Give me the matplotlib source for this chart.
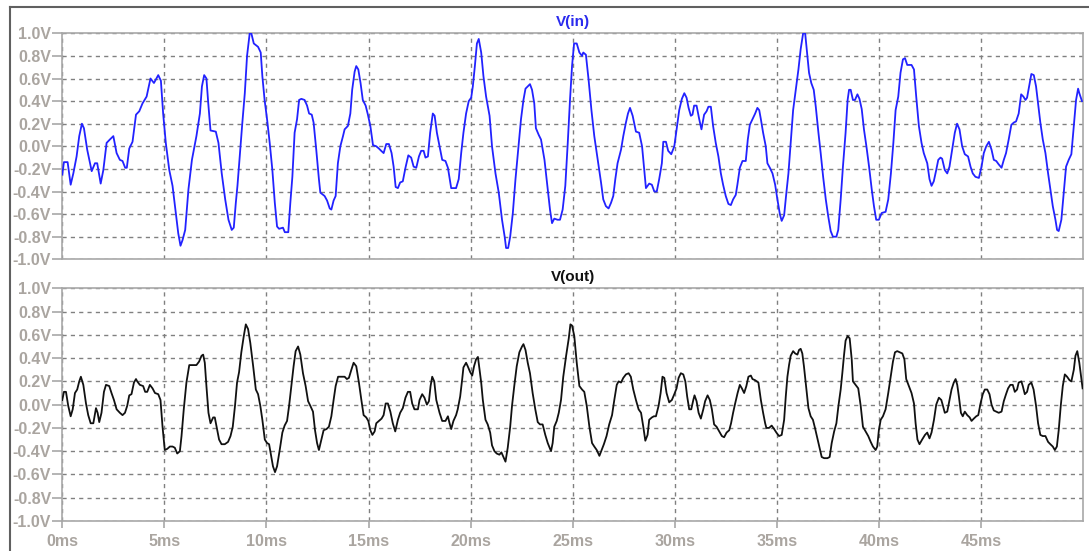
import matplotlib
matplotlib.use("Agg")
import matplotlib.pyplot as plt
from matplotlib.lines import Line2D
from matplotlib.ticker import FuncFormatter

# V(in) trace, time in ms
t_in = [0.00, 0.08, 0.26, 0.41, 0.54, 0.70, 0.83, 0.96, 1.06, 1.22, 1.44, 1.60, 1.71, 1.88, 2.01, 2.17,
        2.33, 2.50, 2.66, 2.82, 2.95, 3.08, 3.16, 3.28, 3.44, 3.61, 3.77, 3.93, 4.13, 4.32, 4.49, 4.70,
        4.83, 4.94, 5.07, 5.24, 5.40, 5.56, 5.68, 5.79, 5.89, 6.02, 6.18, 6.35, 6.57, 6.74, 6.84, 6.95,
        7.06, 7.15, 7.26, 7.52, 7.65, 7.81, 7.98, 8.14, 8.30, 8.40, 8.50, 8.58, 8.69, 8.82, 8.94, 9.05,
        9.18, 9.26, 9.38, 9.59, 9.72, 9.80, 9.91, 10.03, 10.16, 10.29, 10.41, 10.52, 10.62, 10.81, 10.90, 11.07,
        11.17, 11.27, 11.38, 11.50, 11.60, 11.71, 11.87, 11.99, 12.09, 12.22, 12.31, 12.44, 12.57, 12.64, 12.85, 12.97,
        13.10, 13.18, 13.29, 13.39, 13.50, 13.62, 13.75, 13.83, 13.99, 14.11, 14.20, 14.32, 14.40, 14.50, 14.61, 14.72,
        14.86, 14.97, 15.09, 15.22, 15.38, 15.51, 15.62, 15.74, 15.87, 16.00, 16.13, 16.23, 16.33, 16.44, 16.55, 16.68,
        16.81, 16.95, 17.09, 17.21, 17.34, 17.47, 17.58, 17.70, 17.79, 17.91, 18.02, 18.15, 18.24, 18.35, 18.48, 18.61,
        18.77, 18.89, 19.05, 19.29, 19.42, 19.54, 19.65, 19.78, 19.91, 20.03, 20.11, 20.21, 20.31, 20.40, 20.52, 20.63,
        20.76, 20.93, 21.05, 21.22, 21.38, 21.54, 21.67, 21.74, 21.84, 21.94, 22.07, 22.20, 22.36, 22.47, 22.59, 22.69,
        22.80, 22.91, 23.01, 23.12, 23.20, 23.34, 23.45, 23.62, 23.78, 23.89, 23.99, 24.10, 24.26, 24.38, 24.51, 24.64,
        24.76, 24.87, 24.97, 25.07, 25.20, 25.33, 25.46, 25.52, 25.65, 25.78, 25.92, 26.06, 26.23, 26.39, 26.50, 26.63,
        26.76, 26.88, 26.99, 27.09, 27.20, 27.37, 27.48, 27.61, 27.71, 27.81, 27.94, 28.10, 28.26, 28.40, 28.51, 28.59,
        28.75, 28.88, 29.00, 29.12, 29.24, 29.37, 29.44, 29.57, 29.68, 29.83, 29.98, 30.09, 30.22, 30.35, 30.47, 30.58,
        30.68, 30.79, 30.87, 30.95, 31.07, 31.20, 31.31, 31.44, 31.56, 31.65, 31.77, 31.88, 32.01, 32.14, 32.26, 32.37,
        32.50, 32.63, 32.75, 32.86, 32.99, 33.07, 33.19, 33.32, 33.48, 33.58, 33.68, 33.81, 33.94, 34.05, 34.14, 34.22,
        34.33, 34.46, 34.54, 34.66, 34.79, 34.92, 35.03, 35.15, 35.24, 35.36, 35.47, 35.57, 35.68, 35.80, 35.93, 36.06,
        36.17, 36.29, 36.39, 36.48, 36.58, 36.69, 36.81, 36.91, 37.04, 37.15, 37.27, 37.40, 37.52, 37.64, 37.75, 37.92,
        38.01, 38.13, 38.24, 38.37, 38.47, 38.54, 38.62, 38.73, 38.83, 38.95, 39.05, 39.16, 39.27, 39.39, 39.52, 39.65,
        39.76, 39.87, 40.00, 40.14, 40.33, 40.46, 40.59, 40.71, 40.82, 40.95, 41.06, 41.18, 41.28, 41.39, 41.60, 41.72,
        41.83, 41.96, 42.09, 42.20, 42.37, 42.48, 42.58, 42.69, 42.81, 42.91, 43.02, 43.10, 43.23, 43.35, 43.46, 43.59,
        43.72, 43.83, 43.95, 44.08, 44.21, 44.37, 44.49, 44.60, 44.73, 44.90, 45.03, 45.14, 45.26, 45.39, 45.52, 45.63,
        45.75, 45.87, 46.01, 46.12, 46.23, 46.36, 46.49, 46.61, 46.72, 46.85, 46.97, 47.08, 47.18, 47.26, 47.38, 47.47,
        47.59, 47.70, 47.80, 47.91, 48.03, 48.16, 48.29, 48.40, 48.52, 48.65, 48.73, 48.81, 48.94, 49.06, 49.17, 49.30,
        49.43, 49.55, 49.66, 49.76, 49.82, 49.95]
v_in = [-0.25, -0.14, -0.14, -0.34, -0.24, -0.09, 0.09, 0.20, 0.16, -0.03, -0.22, -0.15, -0.15, -0.33, -0.21, 0.03,
        0.06, 0.09, -0.06, -0.12, -0.13, -0.19, -0.19, -0.02, 0.04, 0.28, 0.31, 0.38, 0.44, 0.60, 0.56, 0.63,
        0.58, 0.29, 0.03, -0.21, -0.35, -0.59, -0.77, -0.88, -0.83, -0.74, -0.38, -0.12, 0.09, 0.29, 0.53, 0.63,
        0.60, 0.38, 0.14, 0.13, 0.03, -0.24, -0.47, -0.65, -0.74, -0.72, -0.50, -0.35, -0.09, 0.21, 0.47, 0.80,
        1.00, 1.00, 0.91, 0.88, 0.83, 0.62, 0.41, 0.24, 0.03, -0.21, -0.50, -0.71, -0.73, -0.72, -0.76, -0.76,
        -0.50, -0.27, 0.12, 0.24, 0.41, 0.42, 0.41, 0.36, 0.29, 0.28, 0.21, -0.03, -0.29, -0.41, -0.44, -0.48,
        -0.55, -0.56, -0.48, -0.44, -0.15, 0.00, 0.09, 0.15, 0.18, 0.29, 0.50, 0.66, 0.71, 0.68, 0.56, 0.41,
        0.36, 0.28, 0.18, 0.01, 0.00, -0.02, -0.04, -0.06, 0.02, 0.02, -0.06, -0.18, -0.36, -0.37, -0.32, -0.31,
        -0.19, -0.08, -0.10, -0.18, -0.19, -0.09, -0.04, -0.04, -0.10, -0.09, 0.12, 0.29, 0.27, 0.12, 0.00, -0.12,
        -0.13, -0.19, -0.37, -0.37, -0.29, -0.06, 0.12, 0.29, 0.40, 0.43, 0.53, 0.71, 0.91, 0.95, 0.83, 0.62,
        0.44, 0.27, 0.00, -0.24, -0.41, -0.65, -0.80, -0.90, -0.90, -0.80, -0.59, -0.29, 0.03, 0.24, 0.41, 0.51,
        0.53, 0.55, 0.50, 0.38, 0.16, 0.10, 0.06, -0.12, -0.38, -0.56, -0.68, -0.64, -0.65, -0.65, -0.56, -0.35,
        0.03, 0.41, 0.71, 0.91, 0.91, 0.83, 0.80, 0.83, 0.81, 0.59, 0.32, 0.09, -0.12, -0.32, -0.47, -0.53,
        -0.55, -0.50, -0.44, -0.29, -0.15, -0.03, 0.09, 0.21, 0.29, 0.34, 0.27, 0.13, 0.12, 0.00, -0.21, -0.37,
        -0.33, -0.34, -0.40, -0.40, -0.29, -0.15, 0.04, 0.04, -0.04, -0.07, 0.00, 0.15, 0.32, 0.42, 0.47, 0.43,
        0.34, 0.27, 0.28, 0.36, 0.36, 0.24, 0.15, 0.28, 0.31, 0.35, 0.35, 0.18, 0.03, -0.09, -0.24, -0.34,
        -0.44, -0.51, -0.52, -0.47, -0.43, -0.34, -0.19, -0.13, -0.13, 0.06, 0.19, 0.24, 0.29, 0.34, 0.32, 0.24,
        0.12, 0.00, -0.15, -0.19, -0.24, -0.34, -0.47, -0.60, -0.66, -0.61, -0.41, -0.24, 0.03, 0.32, 0.50, 0.68,
        0.86, 1.00, 1.00, 0.83, 0.65, 0.56, 0.50, 0.35, 0.12, -0.06, -0.27, -0.47, -0.62, -0.75, -0.80, -0.80,
        -0.74, -0.47, -0.18, 0.12, 0.41, 0.50, 0.50, 0.41, 0.41, 0.46, 0.42, 0.33, 0.15, 0.00, -0.18, -0.38,
        -0.53, -0.65, -0.65, -0.59, -0.58, -0.47, -0.24, 0.03, 0.32, 0.44, 0.65, 0.77, 0.78, 0.72, 0.72, 0.68,
        0.44, 0.18, 0.03, -0.06, -0.15, -0.29, -0.35, -0.31, -0.21, -0.12, -0.10, -0.11, -0.21, -0.24, -0.18, -0.03,
        0.12, 0.20, 0.15, 0.00, -0.07, -0.09, -0.18, -0.24, -0.27, -0.28, -0.18, -0.06, 0.00, 0.04, -0.03, -0.12,
        -0.13, -0.16, -0.19, -0.12, -0.06, 0.06, 0.19, 0.21, 0.22, 0.29, 0.46, 0.44, 0.41, 0.43, 0.55, 0.64,
        0.63, 0.53, 0.38, 0.21, 0.06, -0.06, -0.24, -0.38, -0.53, -0.65, -0.74, -0.75, -0.65, -0.41, -0.18, -0.12,
        -0.07, 0.18, 0.41, 0.51, 0.47, 0.40]

# V(out) trace, time in ms
t_out = [0.00, 0.08, 0.18, 0.29, 0.41, 0.51, 0.62, 0.73, 0.83, 0.91, 1.03, 1.16, 1.27, 1.39, 1.52, 1.65,
         1.73, 1.81, 1.92, 2.04, 2.14, 2.30, 2.41, 2.53, 2.66, 2.82, 2.95, 3.07, 3.18, 3.28, 3.39, 3.51,
         3.61, 3.67, 3.80, 3.96, 4.06, 4.16, 4.29, 4.42, 4.54, 4.70, 4.81, 4.91, 5.02, 5.14, 5.27, 5.40,
         5.51, 5.63, 5.76, 5.84, 5.95, 6.08, 6.22, 6.38, 6.57, 6.70, 6.82, 6.90, 6.98, 7.06, 7.16, 7.26,
         7.39, 7.47, 7.59, 7.68, 7.80, 7.96, 8.12, 8.24, 8.35, 8.46, 8.56, 8.66, 8.77, 8.89, 8.99, 9.10,
         9.21, 9.35, 9.48, 9.59, 9.70, 9.80, 9.92, 10.03, 10.13, 10.24, 10.32, 10.42, 10.52, 10.65, 10.78, 10.89,
         11.01, 11.11, 11.22, 11.33, 11.43, 11.55, 11.66, 11.79, 11.92, 12.04, 12.15, 12.28, 12.38, 12.48, 12.57, 12.69,
         12.80, 12.94, 13.06, 13.18, 13.29, 13.39, 13.51, 13.67, 13.83, 13.94, 14.04, 14.16, 14.27, 14.40, 14.53, 14.65,
         14.76, 14.89, 14.99, 15.09, 15.19, 15.30, 15.38, 15.51, 15.64, 15.74, 15.84, 15.95, 16.07, 16.19, 16.31, 16.44,
         16.55, 16.68, 16.81, 16.93, 17.04, 17.14, 17.25, 17.42, 17.50, 17.63, 17.74, 17.86, 17.96, 18.04, 18.12, 18.22,
         18.32, 18.48, 18.61, 18.77, 18.89, 18.97, 19.05, 19.16, 19.29, 19.37, 19.49, 19.59, 19.65, 19.78, 19.86, 19.98,
         20.08, 20.17, 20.27, 20.36, 20.44, 20.52, 20.60, 20.73, 20.84, 20.96, 21.05, 21.17, 21.28, 21.41, 21.51, 21.61,
         21.71, 21.82, 21.94, 22.03, 22.14, 22.26, 22.39, 22.52, 22.59, 22.69, 22.80, 22.91, 23.04, 23.17, 23.29, 23.40,
         23.53, 23.66, 23.78, 23.94, 24.02, 24.10, 24.22, 24.32, 24.43, 24.54, 24.68, 24.81, 24.89, 24.97, 25.08, 25.20,
         25.33, 25.46, 25.57, 25.69, 25.82, 25.95, 26.06, 26.18, 26.31, 26.40, 26.53, 26.66, 26.79, 26.93, 27.04, 27.16,
         27.25, 27.37, 27.48, 27.61, 27.74, 27.85, 27.97, 28.10, 28.23, 28.35, 28.46, 28.56, 28.67, 28.75, 28.88, 28.98,
         29.08, 29.21, 29.31, 29.40, 29.49, 29.60, 29.73, 29.86, 29.98, 30.09, 30.19, 30.30, 30.42, 30.52, 30.61, 30.71,
         30.81, 30.91, 30.97, 31.07, 31.17, 31.28, 31.40, 31.49, 31.61, 31.72, 31.82, 31.93, 32.05, 32.18, 32.31, 32.42,
         32.54, 32.67, 32.76, 32.86, 32.96, 33.08, 33.19, 33.29, 33.40, 33.51, 33.61, 33.73, 33.81, 33.94, 34.10, 34.22,
         34.33, 34.43, 34.49, 34.62, 34.75, 34.87, 34.98, 35.11, 35.24, 35.36, 35.44, 35.52, 35.60, 35.68, 35.80, 35.90,
         36.01, 36.09, 36.17, 36.25, 36.33, 36.45, 36.55, 36.66, 36.77, 36.87, 36.99, 37.10, 37.20, 37.32, 37.48, 37.59,
         37.69, 37.81, 37.92, 38.02, 38.13, 38.21, 38.29, 38.37, 38.47, 38.57, 38.67, 38.73, 38.86, 38.99, 39.11, 39.22,
         39.35, 39.48, 39.60, 39.71, 39.84, 39.92, 40.00, 40.09, 40.20, 40.33, 40.46, 40.58, 40.69, 40.79, 40.90, 41.02,
         41.15, 41.25, 41.34, 41.47, 41.60, 41.72, 41.80, 41.89, 41.99, 42.12, 42.26, 42.37, 42.48, 42.58, 42.70, 42.81,
         42.94, 43.06, 43.14, 43.23, 43.35, 43.46, 43.56, 43.67, 43.76, 43.84, 43.92, 44.02, 44.11, 44.21, 44.33, 44.45,
         44.54, 44.65, 44.77, 44.87, 44.98, 45.09, 45.19, 45.31, 45.42, 45.52, 45.63, 45.75, 45.87, 46.01, 46.12, 46.23,
         46.33, 46.44, 46.56, 46.66, 46.77, 46.85, 46.98, 47.05, 47.15, 47.26, 47.34, 47.47, 47.58, 47.70, 47.80, 47.91,
         48.03, 48.16, 48.29, 48.40, 48.52, 48.62, 48.72, 48.81, 48.91, 49.01, 49.11, 49.22, 49.34, 49.43, 49.55, 49.63,
         49.72, 49.82, 49.92, 49.98]
v_out = [0.04, 0.11, 0.11, -0.01, -0.10, -0.04, 0.10, 0.13, 0.20, 0.24, 0.17, 0.01, -0.09, -0.16, -0.16, -0.03,
         -0.07, -0.15, -0.07, 0.11, 0.17, 0.16, 0.10, 0.04, -0.04, -0.07, -0.09, -0.07, -0.01, 0.08, 0.09, 0.19,
         0.22, 0.20, 0.17, 0.16, 0.11, 0.11, 0.17, 0.14, 0.10, 0.09, 0.04, -0.19, -0.39, -0.38, -0.36, -0.36,
         -0.37, -0.42, -0.40, -0.27, -0.04, 0.19, 0.34, 0.34, 0.34, 0.37, 0.42, 0.43, 0.36, 0.16, -0.07, -0.16,
         -0.11, -0.11, -0.22, -0.30, -0.34, -0.34, -0.32, -0.27, -0.19, -0.01, 0.19, 0.28, 0.45, 0.59, 0.69, 0.65,
         0.53, 0.33, 0.13, 0.09, -0.01, -0.13, -0.30, -0.33, -0.34, -0.45, -0.53, -0.58, -0.53, -0.39, -0.24, -0.18,
         -0.14, -0.01, 0.16, 0.33, 0.46, 0.50, 0.43, 0.27, 0.16, 0.03, -0.01, -0.06, -0.22, -0.33, -0.39, -0.30,
         -0.22, -0.21, -0.19, -0.10, 0.04, 0.16, 0.24, 0.24, 0.24, 0.22, 0.23, 0.30, 0.36, 0.33, 0.19, 0.04,
         -0.09, -0.11, -0.14, -0.22, -0.26, -0.23, -0.16, -0.14, -0.12, -0.09, 0.01, 0.01, -0.06, -0.16, -0.23, -0.13,
         -0.07, -0.03, 0.06, 0.11, 0.11, 0.01, -0.04, -0.04, 0.04, 0.09, 0.06, 0.00, 0.03, 0.16, 0.24, 0.20,
         0.04, -0.07, -0.14, -0.14, -0.10, -0.16, -0.21, -0.14, -0.09, -0.04, 0.07, 0.22, 0.32, 0.36, 0.33, 0.28,
         0.25, 0.33, 0.39, 0.41, 0.30, 0.19, 0.04, -0.13, -0.17, -0.24, -0.35, -0.40, -0.42, -0.43, -0.41, -0.45,
         -0.49, -0.37, -0.19, -0.01, 0.16, 0.33, 0.45, 0.50, 0.52, 0.47, 0.36, 0.27, 0.10, -0.04, -0.15, -0.17,
         -0.17, -0.26, -0.33, -0.40, -0.33, -0.19, -0.14, -0.07, 0.04, 0.24, 0.42, 0.57, 0.69, 0.68, 0.59, 0.36,
         0.16, 0.13, 0.11, -0.01, -0.19, -0.33, -0.36, -0.39, -0.44, -0.40, -0.34, -0.27, -0.17, -0.09, 0.04, 0.17,
         0.20, 0.19, 0.23, 0.26, 0.27, 0.24, 0.13, 0.04, -0.04, -0.07, -0.19, -0.31, -0.26, -0.13, -0.11, -0.10,
         -0.10, -0.01, 0.10, 0.24, 0.23, 0.10, 0.02, 0.04, 0.09, 0.14, 0.23, 0.27, 0.26, 0.20, 0.07, -0.04,
         -0.04, 0.04, 0.08, 0.03, -0.07, -0.12, -0.04, 0.03, 0.08, 0.04, -0.04, -0.17, -0.19, -0.23, -0.27, -0.28,
         -0.24, -0.22, -0.16, -0.07, 0.01, 0.10, 0.17, 0.14, 0.10, 0.16, 0.24, 0.25, 0.22, 0.21, 0.19, 0.04,
         -0.07, -0.16, -0.20, -0.20, -0.18, -0.21, -0.24, -0.27, -0.26, -0.13, 0.07, 0.24, 0.34, 0.42, 0.46, 0.44,
         0.43, 0.47, 0.48, 0.44, 0.33, 0.13, -0.03, -0.10, -0.13, -0.20, -0.29, -0.37, -0.45, -0.46, -0.46, -0.45,
         -0.33, -0.23, -0.16, -0.01, 0.13, 0.27, 0.42, 0.55, 0.59, 0.57, 0.39, 0.20, 0.17, 0.14, -0.01, -0.19,
         -0.23, -0.27, -0.32, -0.36, -0.39, -0.36, -0.22, -0.13, -0.10, -0.04, 0.10, 0.24, 0.37, 0.45, 0.46, 0.45,
         0.44, 0.39, 0.22, 0.16, 0.10, 0.01, -0.16, -0.30, -0.34, -0.30, -0.26, -0.24, -0.29, -0.24, -0.13, 0.00,
         0.06, 0.04, -0.01, -0.07, -0.06, 0.04, 0.13, 0.19, 0.22, 0.17, 0.07, -0.07, -0.10, -0.06, -0.09, -0.11,
         -0.14, -0.12, -0.10, -0.09, 0.01, 0.09, 0.13, 0.13, 0.09, 0.00, -0.05, -0.06, -0.07, -0.06, 0.03, 0.09,
         0.14, 0.17, 0.17, 0.11, 0.13, 0.19, 0.20, 0.16, 0.09, 0.11, 0.17, 0.19, 0.13, -0.01, -0.16, -0.26,
         -0.27, -0.27, -0.32, -0.34, -0.36, -0.39, -0.36, -0.22, -0.01, 0.16, 0.26, 0.24, 0.21, 0.20, 0.30, 0.42,
         0.46, 0.36, 0.22, 0.14]

y_ticks = [-1.0, -0.8, -0.6, -0.4, -0.2, 0.0, 0.2, 0.4, 0.6, 0.8, 1.0]
x_ticks = [0, 5, 10, 15, 20, 25, 30, 35, 40, 45]

plt.rcParams['font.family'] = ['Liberation Sans', 'DejaVu Sans']
plt.rcParams['axes.unicode_minus'] = False

W, H = 1089, 551
fig = plt.figure(figsize=(W / 100, H / 100), dpi=100)
fig.patch.set_facecolor('white')

# panel boxes in pixel coordinates: left, top, right, bottom
boxes = [(62.3, 33.3, 1083, 259.3), (62.3, 288.3, 1083, 521.0)]
traces = [(t_in, v_in, '#2222ff', 'V(in)', '#2b2bee'),
          (t_out, v_out, '#111111', 'V(out)', '#111111')]

tick_col = '#aaa5a0'
spine_col = '#a8a8a8'
grid_col = '#808080'

for i, (box, (t, v, col, name, tcol)) in enumerate(zip(boxes, traces)):
    l, tp, r, b = box
    ax = fig.add_axes([l / W, 1 - b / H, (r - l) / W, (b - tp) / H])
    ax.plot(t, v, color=col, lw=1.3, zorder=3)
    ax.set_xlim(0, 50)
    ax.set_ylim(-1.0, 1.0)
    ax.set_yticks(y_ticks)
    ax.yaxis.set_major_formatter(FuncFormatter(lambda y, p: '%.1fV' % y if abs(y) > 1e-9 else '0.0V'))
    ax.set_xticks(x_ticks)
    ax.xaxis.set_major_formatter(FuncFormatter(lambda x, p: '%dms' % x))
    for s in ax.spines.values():
        s.set_color(spine_col)
        s.set_linewidth(1.2)
    ax.grid(True, color=grid_col, lw=1.0, linestyle=(0, (3, 3)))
    ax.tick_params(axis='y', length=7, width=1.2, color=spine_col, pad=1,
                   labelsize=11.5, labelcolor=tick_col)
    for lab in ax.get_yticklabels():
        lab.set_fontweight('bold')
    if i == 0:
        ax.tick_params(axis='x', length=0, labelbottom=False)
    else:
        ax.tick_params(axis='x', length=5, width=1.2, color=spine_col, pad=4,
                       labelsize=11.5, labelcolor=tick_col)
        for lab in ax.get_xticklabels():
            lab.set_fontweight('bold')
    ax.set_title(name, color=tcol, fontsize=11, fontweight='bold', pad=5)

# pane border
fig.add_artist(Line2D([10 / W, 10 / W], [0, 1 - 7 / H], color='#606060', lw=1.5))
fig.add_artist(Line2D([10 / W, 1], [1 - 7 / H, 1 - 7 / H], color='#606060', lw=1.5))

fig.savefig('out.png', dpi=100, facecolor='white')
